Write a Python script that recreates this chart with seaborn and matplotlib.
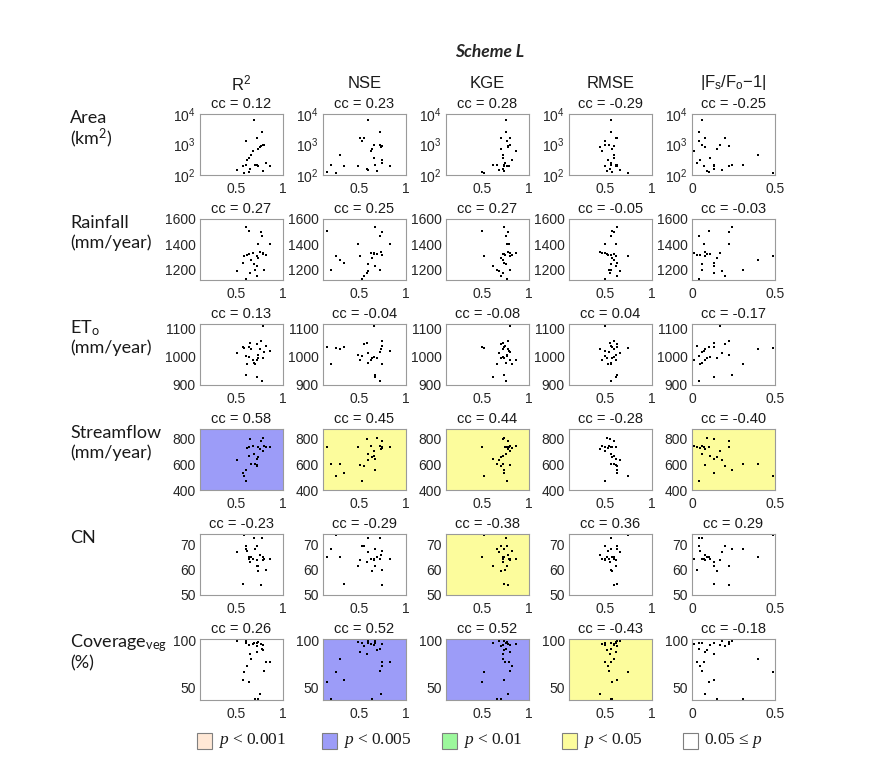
from __future__ import annotations

import matplotlib

matplotlib.use("Agg")
import matplotlib.pyplot as plt
import pandas as pd
import seaborn as sns
from matplotlib.patches import Rectangle
from matplotlib.ticker import NullLocator

# one value per catchment (same order in every array)
r2 = [0.515, 0.58, 0.59, 0.605, 0.61, 0.62, 0.64, 0.64, 0.655, 0.66, 0.68, 0.69, 0.70,
      0.72, 0.725, 0.725, 0.73, 0.74, 0.76, 0.77, 0.78, 0.785, 0.79, 0.80, 0.815, 0.86]
nse = [0.60, 0.34, 0.26, 0.67, 0.53, 0.75, 0.16, 0.66, 0.59, 0.30, 0.63, 0.60, 0.21,
       0.51, 0.67, 0.55, 0.64, 0.495, 0.73, 0.75, 0.72, 0.69, 0.66, 0.72, 0.745, 0.83]
kge = [0.68, 0.74, 0.52, 0.73, 0.77, 0.82, 0.50, 0.72, 0.72, 0.72, 0.86, 0.76, 0.66,
       0.80, 0.62, 0.70, 0.70, 0.77, 0.78, 0.78, 0.76, 0.74, 0.80, 0.80, 0.75, 0.79]
rmse = [0.66, 0.63, 0.75, 0.63, 0.50, 0.53, 0.58, 0.60, 0.55, 0.60, 0.47, 0.56, 0.56,
        0.62, 0.62, 0.63, 0.58, 0.62, 0.45, 0.60, 0.57, 0.52, 0.50, 0.54, 0.56, 0.50]
fbias = [0.18, 0.13, 0.49, 0.24, 0.04, 0.05, 0.10, 0.11, 0.13, 0.40, 0.01, 0.06, 0.31,
         0.08, 0.13, 0.20, 0.15, 0.22, 0.08, 0.22, 0.04, 0.09, 0.17, 0.06, 0.03, 0.07]

area = [150, 200, 112, 215, 1350, 310, 123, 370, 160, 460, 590, 6300, 210,
        1600, 210, 1600, 700, 200, 800, 900, 2500, 135, 1000, 1000, 250, 200]
rainfall = [1187, 1253, 1310, 1534, 1126, 1316, 1503, 1324, 1175, 1279, 1332, 1247, 1195,
            1305, 1232, 1153, 1292, 1400, 1340, 1497, 1463, 1324, 1332, 1200, 1318, 1403]
eto = [1015, 1035, 1032, 935, 1004, 974, 1035, 1000, 1048, 1026, 990, 978, 974,
       987, 929, 1045, 994, 1006, 1026, 1055, 913, 994, 1108, 1017, 1039, 1019]
streamflow = [634, 535, 509, 558, 470, 727, 732, 665, 800, 600, 740, 680, 603,
              597, 644, 590, 660, 732, 717, 782, 873, 805, 704, 740, 732, 737]
cn = [67.1, 54.2, 73.7, 68.1, 69.2, 67.5, 65.0, 64.3, 63.0, 64.9, 64.3, 72.4, 68.1,
      63.6, 61.4, 69.2, 59.4, 61.3, 65.9, 53.9, 72.4, 64.9, 63.6, 64.3, 60.0, 64.0]
coverage = [100, 57.4, 66, 100, 98, 73, 55.2, 96, 85.6, 80, 97, 98, 37,
            88, 98, 94, 36.7, 99, 42.6, 97, 91.5, 90, 95, 67.8, 76.7, 76.7]

metric_cols = ["R2", "NSE", "KGE", "RMSE", "Fbias"]
metric_titles = ["R$^2$", "NSE", "KGE", "RMSE", "|F$_s$/F$_o$\u22121|"]
attr_cols = ["Area", "Rainfall", "ETo", "Streamflow", "CN", "Coverage"]
attr_labels = [("Area", "(km$^2$)"), ("Rainfall", "(mm/year)"), ("ET$_o$", "(mm/year)"),
               ("Streamflow", "(mm/year)"), ("CN", ""), ("Coverage$_{veg}$", "(%)")]

cc_values = [
    [0.12, 0.23, 0.28, -0.29, -0.25],
    [0.27, 0.25, 0.27, -0.05, -0.03],
    [0.13, -0.04, -0.08, 0.04, -0.17],
    [0.58, 0.45, 0.44, -0.28, -0.40],
    [-0.23, -0.29, -0.38, 0.36, 0.29],
    [0.26, 0.52, 0.52, -0.43, -0.18],
]
p_class = [
    ["ns", "ns", "ns", "ns", "ns"],
    ["ns", "ns", "ns", "ns", "ns"],
    ["ns", "ns", "ns", "ns", "ns"],
    ["p005", "p05", "p05", "ns", "p05"],
    ["ns", "ns", "p05", "ns", "ns"],
    ["ns", "p005", "p005", "p05", "ns"],
]
legend_keys = ["p001", "p005", "p01", "p05", "ns"]
legend_texts = ["$\\it{p}$ < 0.001", "$\\it{p}$ < 0.005", "$\\it{p}$ < 0.01",
                "$\\it{p}$ < 0.05", "0.05 \u2264 $\\it{p}$"]

SIG_COLORS = {"p001": "#FFE8D6", "p005": "#9C9CF8", "p01": "#9CF89C", "p05": "#FCFC9C", "ns": "white"}
Y_SETUP = {
    "Area": dict(lim=(100, 10000), ticks=[100, 1000, 10000],
                 labels=["10$^2$", "10$^3$", "10$^4$"], log=True),
    "Rainfall": dict(lim=(1118, 1600), ticks=[1200, 1400, 1600], labels=None, log=False),
    "ETo": dict(lim=(900, 1116), ticks=[900, 1000, 1100], labels=None, log=False),
    "Streamflow": dict(lim=(400, 875), ticks=[400, 600, 800], labels=None, log=False),
    "CN": dict(lim=(50, 74), ticks=[50, 60, 70], labels=None, log=False),
    "Coverage": dict(lim=(36, 102), ticks=[50, 100], labels=None, log=False),
}

W, H = 882, 768
LABEL_FONT = ["Lato", "DejaVu Sans"]


def px_rect(left, top, width, height):
    return [left / W, 1 - (top + height) / H, width / W, height / H]


def main() -> None:
    sns.set_style("white")
    plt.rcParams["font.family"] = ["Liberation Sans", "DejaVu Sans"]
    plt.rcParams["mathtext.default"] = "regular"
    plt.rcParams["mathtext.fontset"] = "custom"
    plt.rcParams["mathtext.it"] = "Liberation Serif:italic"

    df = pd.DataFrame({
        "R2": r2, "NSE": nse, "KGE": kge, "RMSE": rmse, "Fbias": fbias,
        "Area": area, "Rainfall": rainfall, "ETo": eto, "Streamflow": streamflow,
        "CN": cn, "Coverage": coverage,
    })

    fig = plt.figure(figsize=(W / 100, H / 100), dpi=100)
    fig.patch.set_facecolor("white")

    ax_left0, ax_top0, ax_w, ax_h = 200, 114, 83, 61
    dx, dy = 123, 105

    for i, attr in enumerate(attr_cols):
        ys = Y_SETUP[attr]
        for j, metric in enumerate(metric_cols):
            ax = fig.add_axes(px_rect(ax_left0 + dx * j, ax_top0 + dy * i, ax_w, ax_h))
            ax.set_facecolor(SIG_COLORS[p_class[i][j]])
            sns.scatterplot(data=df, x=metric, y=attr, ax=ax, color="black", marker="s",
                            s=4, linewidth=0, legend=False)
            if ys["log"]:
                ax.set_yscale("log")
            ax.set_ylim(*ys["lim"])
            ax.set_yticks(ys["ticks"])
            if ys["labels"]:
                ax.set_yticklabels(ys["labels"])
            ax.yaxis.set_minor_locator(NullLocator())
            if metric == "Fbias":
                ax.set_xlim(0, 0.5)
                ax.set_xticks([0, 0.5])
                ax.set_xticklabels(["0", "0.5"])
            else:
                ax.set_xlim(0.12, 1)
                ax.set_xticks([0.5, 1])
                ax.set_xticklabels(["0.5", "1"])
            ax.set_xlabel("")
            ax.set_ylabel("")
            ax.tick_params(axis="both", labelsize=10, labelcolor="#262626", direction="in",
                           length=2, width=0.6, color="#909090")
            ax.tick_params(axis="x", pad=5)
            ax.tick_params(axis="y", pad=3)
            for sp in ax.spines.values():
                sp.set_color("#9a9a9a")
                sp.set_linewidth(0.8)
            ax.set_title(f"cc = {cc_values[i][j]:.2f}", fontsize=10.5, color="#1a1a1a", pad=4.5)

    # column headers
    for j, title in enumerate(metric_titles):
        cx = (ax_left0 + dx * j + ax_w / 2) / W
        fig.text(cx, 1 - 83 / H, title, ha="center", va="center", fontsize=12, color="#1a1a1a")

    # row labels
    for i, (line1, line2) in enumerate(attr_labels):
        top = ax_top0 + dy * i
        fig.text(70 / W, 1 - (top + 4) / H, line1, ha="left", va="center",
                 fontsize=13, family=LABEL_FONT, color="#1a1a1a")
        if line2:
            fig.text(70 / W, 1 - (top + 24) / H, line2, ha="left", va="center",
                     fontsize=13, family=LABEL_FONT, color="#1a1a1a")

    fig.text(490 / W, 1 - 52 / H, "Scheme L", ha="center", va="center", fontsize=12.5,
             fontweight="bold", fontstyle="italic", family=LABEL_FONT)

    # significance legend
    sq_lefts = [197, 322, 442, 562, 683]
    for key, txt, x0 in zip(legend_keys, legend_texts, sq_lefts):
        fig.patches.append(Rectangle((x0 / W, 1 - 749 / H), 15 / W, 16 / H,
                                     transform=fig.transFigure, facecolor=SIG_COLORS[key],
                                     edgecolor="#7f7f7f", linewidth=0.8))
        fig.text((x0 + 21) / W, 1 - 741 / H, txt, ha="left", va="center", fontsize=12.5,
                 family=["Liberation Serif", "DejaVu Serif"], color="#1a1a1a")

    fig.savefig("out.png", dpi=100)
    plt.close(fig)


if __name__ == "__main__":
    main()
